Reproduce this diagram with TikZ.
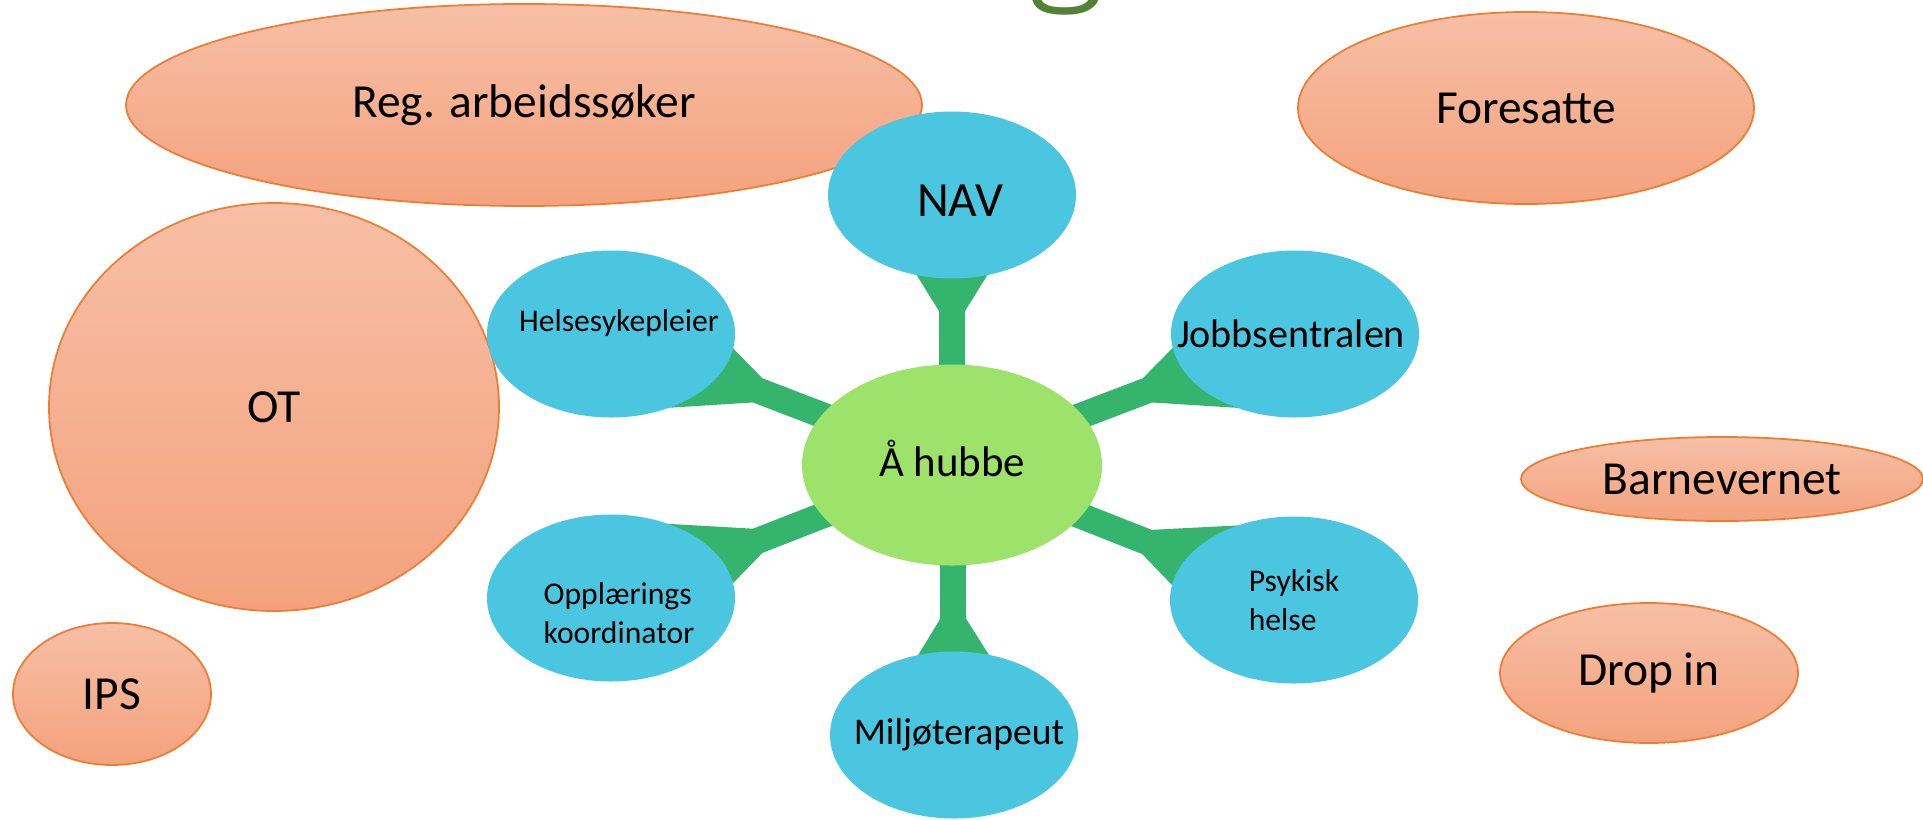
\documentclass[tikz,border=0pt]{standalone}
\usepackage{fontspec}
\setmainfont{Carlito}
\newfontfamily\titlefont{Fira Sans Light}
\usepackage{tikz}
\usepackage{xcolor}
\usetikzlibrary{shapes.geometric,calc,backgrounds}
\definecolor{orTop}{HTML}{F7BFA6}
\definecolor{orBot}{HTML}{F4A27D}
\definecolor{orEdge}{HTML}{ED7D31}
\definecolor{blaa}{HTML}{4AC6E0}
\definecolor{hubGreen}{HTML}{9DE26B}
\definecolor{spokeGreen}{HTML}{34B46C}
\definecolor{titleGreen}{HTML}{548235}

\newcommand{\spoke}[1]{%
  \coordinate (k-#1) at ($(hub.center)!0.57!(#1.center)$);
  \fill[spokeGreen] ($(hub.center)!0.13cm!90:(#1.center)$)
      -- ($(k-#1)!0.13cm!90:(#1.center)$)
      -- ($(#1.center)!0.85cm!-90:(hub.center)$)
      -- ($(#1.center)!0.85cm!90:(hub.center)$)
      -- ($(k-#1)!0.13cm!-90:(#1.center)$)
      -- ($(hub.center)!0.13cm!-90:(#1.center)$) -- cycle;}

\begin{document}
\begin{tikzpicture}[outer/.style={ellipse, draw=orEdge, line width=0.5pt,
                    top color=orTop, bottom color=orBot, inner sep=0pt,
                    font=\fontsize{13.5}{16}\selectfont},
                bubble/.style={ellipse, fill=blaa, minimum width=2.48cm,
                    minimum height=1.67cm, inner sep=0pt},
                small/.style={font=\fontsize{9}{11}\selectfont, align=left, inner sep=0pt}]
                \useasboundingbox (0,0) rectangle (19.23,8.19);
                \begin{scope}
                    \clip (0,0) rectangle (19.23,8.19);
                    \node[anchor=base, text=titleGreen, font=\titlefont\fontsize{44}{52}\selectfont] (title) at (10.65,8.35) {g};
                \end{scope}
                \node[outer, minimum width=4.50cm, minimum height=4.08cm] (ot) at (2.74,4.12) {OT};
                \node[outer, minimum width=7.96cm, minimum height=2.02cm] (reg) at (5.24,7.14) {Reg. arbeidssøker};
                \node[outer, minimum width=4.56cm, minimum height=1.92cm] (foresatte) at (15.26,7.11) {Foresatte};
                \node[outer, minimum width=1.98cm, minimum height=1.42cm] (ips) at (1.12,1.25) {IPS};
                \node[outer, minimum width=4.02cm, minimum height=0.84cm] (barnevern) at (17.22,3.40) {Barnevernet};
                \node[outer, minimum width=2.98cm, minimum height=1.40cm] (dropin) at (16.49,1.46) {Drop in};
                \node[bubble] (nav) at (9.52,6.24) {};
                \node[bubble] (helse) at (6.11,4.85) {};
                \node[bubble] (jobb) at (12.95,4.85) {};
                \node[bubble] (opplaering) at (6.11,2.21) {};
                \node[bubble] (psykisk) at (12.94,2.19) {};
                \node[bubble] (miljo) at (9.54,0.84) {};
                \node[ellipse, fill=hubGreen, minimum width=3.0cm, minimum height=2.01cm,
                    inner sep=0pt] (hub) at (9.52,3.54) {};
                \begin{scope}[on background layer]
                    \foreach \s in {nav,helse,jobb,opplaering,psykisk,miljo} {\spoke{\s}}
                \end{scope}
                \node[font=\fontsize{14}{16}\selectfont, inner sep=0pt] (nav-t) at ($(nav)+(0.08,-0.06)$) {NAV};
                \node[small] (helse-t) at ($(helse)+(0.08,0.11)$) {Helsesykepleier};
                \node[font=\fontsize{11.4}{14}\selectfont, inner sep=0pt] (jobb-t) at ($(jobb)+(-0.04,0)$) {Jobbsentralen};
                \node[small] (opplaering-t) at ($(opplaering)+(0.08,-0.15)$) {Opplærings\\koordinator};
                \node[small] (psykisk-t) at (psykisk) {Psykisk\\helse};
                \node[font=\fontsize{10.7}{14}\selectfont, inner sep=0pt] (miljo-t) at ($(miljo)+(0.05,0)$) {Miljøterapeut};
                \node[font=\fontsize{12.2}{15}\selectfont, inner sep=0pt] (hub-t) at ($(hub)+(0,0.06)$) {Å hubbe};
            \end{tikzpicture}
\end{document}
